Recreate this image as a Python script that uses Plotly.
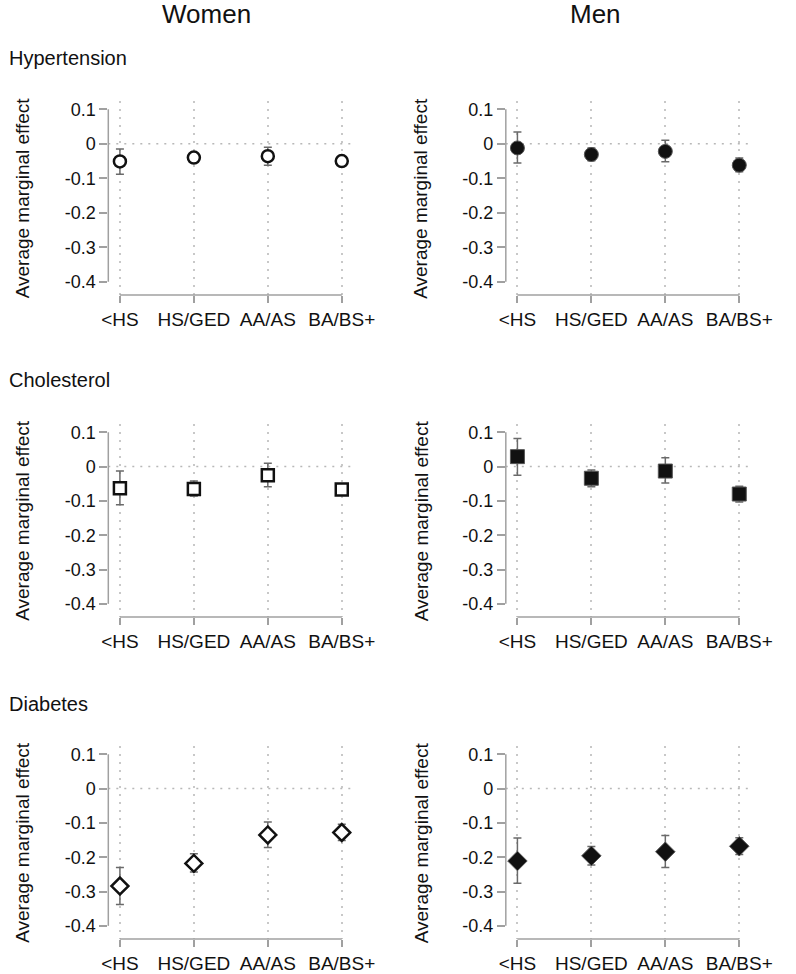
import plotly.graph_objects as go

W, H = 796, 974

categories = ["<HS", "HS/GED", "AA/AS", "BA/BS+"]
yticks = [0.1, 0, -0.1, -0.2, -0.3, -0.4]
ytick_text = ["0.1", "0", "-0.1", "-0.2", "-0.3", "-0.4"]

outcomes = ["Hypertension", "Cholesterol", "Diabetes"]
sexes = ["Women", "Men"]

# point estimates and 95% CI bounds
women_hyp = [-0.051, -0.040, -0.036, -0.050]
women_hyp_lo = [-0.088, -0.050, -0.062, -0.058]
women_hyp_hi = [-0.015, -0.030, -0.010, -0.042]

men_hyp = [-0.012, -0.031, -0.022, -0.062]
men_hyp_lo = [-0.056, -0.049, -0.052, -0.081]
men_hyp_hi = [0.034, -0.012, 0.010, -0.041]

women_chol = [-0.063, -0.065, -0.025, -0.067]
women_chol_lo = [-0.111, -0.086, -0.059, -0.079]
women_chol_hi = [-0.013, -0.042, 0.010, -0.055]

men_chol = [0.029, -0.034, -0.013, -0.080]
men_chol_lo = [-0.025, -0.059, -0.048, -0.103]
men_chol_hi = [0.082, -0.010, 0.026, -0.057]

women_diab = [-0.284, -0.218, -0.135, -0.128]
women_diab_lo = [-0.338, -0.243, -0.172, -0.151]
women_diab_hi = [-0.230, -0.190, -0.097, -0.104]

men_diab = [-0.211, -0.196, -0.184, -0.168]
men_diab_lo = [-0.276, -0.223, -0.230, -0.192]
men_diab_hi = [-0.144, -0.169, -0.137, -0.143]

panels = [
    [(women_hyp, women_hyp_lo, women_hyp_hi), (men_hyp, men_hyp_lo, men_hyp_hi)],
    [(women_chol, women_chol_lo, women_chol_hi), (men_chol, men_chol_lo, men_chol_hi)],
    [(women_diab, women_diab_lo, women_diab_hi), (men_diab, men_diab_lo, men_diab_hi)],
]
symbols = ["circle", "square", "diamond"]

FONT = "Arial, Liberation Sans, sans-serif"
AXIS_GRAY = "#a0a0a0"
DOTS = "2px,6px"

# pixel layout of panels
col_px = [(105, 360), (517, 772)]
row_px = [(100, 295), (424, 618), (747, 941)]
y_range = [-0.4386, 0.125]
x_range = [-0.157, 3.17]


def px_x(p):
    return p / W


def px_y(p):
    return 1 - p / H


fig = go.Figure()
layout = {}
shapes = []
annotations = []

xs = list(range(len(categories)))
for r in range(3):
    for c in range(2):
        k = r * 2 + c + 1
        xa = "x" if k == 1 else f"x{k}"
        ya = "y" if k == 1 else f"y{k}"
        vals, lo, hi = panels[r][c]
        plus = [h - v for v, h in zip(vals, hi)]
        minus = [v - l for v, l in zip(vals, lo)]

        if c == 0:
            marker = {"symbol": symbols[r], "size": 12 if r < 2 else 13, "color": "white",
                      "line": {"color": "#111", "width": 2.5}}
        else:
            marker = {"symbol": symbols[r], "size": 14 if r < 2 else 15, "color": "#111",
                      "line": {"color": "#555", "width": 1}}

        fig.add_trace(go.Scatter(
            x=xs, y=vals, mode="markers", xaxis=xa, yaxis=ya,
            marker=marker,
            error_y={"type": "data", "symmetric": False, "array": plus, "arrayminus": minus,
                     "color": "#6a6a6a", "thickness": 1.5, "width": 4},
            showlegend=False,
        ))

        layout["xaxis" if k == 1 else f"xaxis{k}"] = dict(
            domain=[px_x(col_px[c][0]), px_x(col_px[c][1])],
            anchor=ya, range=x_range,
            tickvals=xs, ticktext=categories,
            ticks="outside", ticklen=7, tickwidth=1.5, tickcolor=AXIS_GRAY,
            showline=False, zeroline=False,
            showgrid=True, gridcolor="#c8c8c8", gridwidth=1.5, griddash=DOTS,
            tickfont=dict(family=FONT, size=19, color="#111"),
            fixedrange=True,
        )
        layout["yaxis" if k == 1 else f"yaxis{k}"] = dict(
            domain=[px_y(row_px[r][1]), px_y(row_px[r][0])],
            anchor=xa, range=y_range,
            tickvals=yticks, ticktext=ytick_text,
            ticks="outside", ticklen=8, tickwidth=1.5, tickcolor=AXIS_GRAY,
            showline=False, zeroline=False, showgrid=False,
            tickfont=dict(family=FONT, size=18, color="#111"),
            fixedrange=True,
        )

        # Stata-style axis lines that only span the ticks
        shapes.append(dict(type="line", xref=f"{xa} domain", yref=ya, x0=0, x1=0,
                           y0=yticks[-1], y1=yticks[0], line=dict(color=AXIS_GRAY, width=1.5)))
        shapes.append(dict(type="line", xref=xa, yref=f"{ya} domain", x0=xs[0], x1=xs[-1],
                           y0=0, y1=0, line=dict(color=AXIS_GRAY, width=1.5)))
        # dotted reference line at zero
        shapes.append(dict(type="line", xref=f"{xa} domain", yref=ya, x0=0, x1=1,
                           y0=0, y1=0, line=dict(color="#b8b8b8", width=1.5, dash=DOTS),
                           layer="below"))

        # y-axis title
        annotations.append(dict(
            text="Average marginal effect", textangle=-90,
            x=px_x(16 if c == 0 else 429), y=px_y((row_px[r][0] + row_px[r][1]) / 2),
            xref="paper", yref="paper", xanchor="center", yanchor="middle",
            showarrow=False,
            font=dict(family=FONT, size=19, color="#111"),
        ))

# row titles
for r, (name, ypx) in enumerate(zip(outcomes, [57, 380, 705])):
    annotations.append(dict(text=name, x=px_x(0), y=px_y(ypx), xref="paper", yref="paper",
                            xanchor="left", yanchor="middle", showarrow=False,
                            font=dict(family=FONT, size=20, color="#111")))

# column titles
for name, xpx in zip(sexes, [207, 610]):
    annotations.append(dict(text=name, x=px_x(xpx), y=px_y(13), xref="paper", yref="paper",
                            xanchor="center", yanchor="middle", showarrow=False,
                            font=dict(family=FONT, size=26, color="#111")))

fig.update_layout(
    **layout,
    shapes=shapes,
    annotations=annotations,
    width=W, height=H,
    margin=dict(l=0, r=0, t=0, b=0),
    paper_bgcolor="white", plot_bgcolor="white",
)

# drop the browser's default body margin so the figure fills the window
fig.write_html("out.html", config={"displayModeBar": False},
               post_script="document.body.style.margin = '0';")
